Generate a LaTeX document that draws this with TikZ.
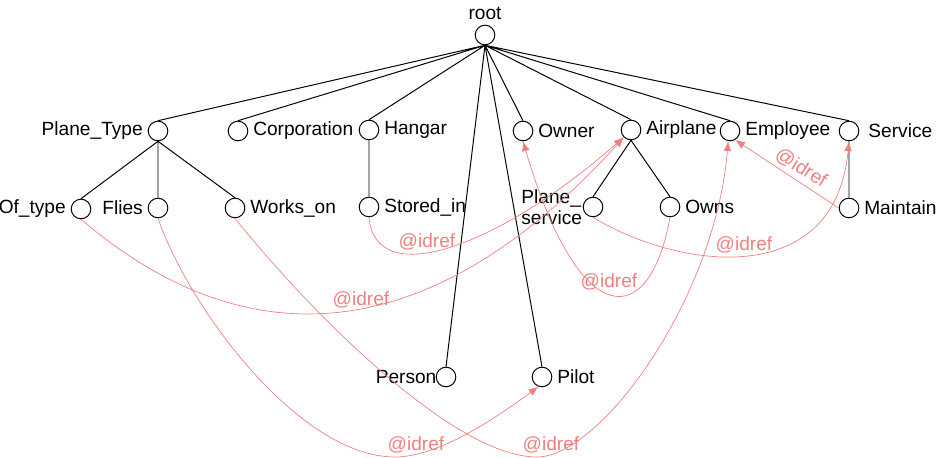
\documentclass[tikz,border=0pt]{standalone}
\usepackage{fontspec}
\setmainfont{Liberation Sans}
\usepackage{tikz}
\usetikzlibrary{arrows.meta}
\definecolor{idred}{RGB}{240,128,128}

\begin{document}
\begin{tikzpicture}[x=0.025cm,y=-0.025cm,
    font=\fontsize{13.6}{14.5}\selectfont,
    vertex/.style={circle,draw,line width=0.7pt,inner sep=0pt,minimum size=0.49cm},
    idref/.style={draw=idred,line width=0.5pt,-{Latex[length=7pt,width=5.5pt]}},
    reflabel/.style={text=idred,inner sep=0pt}]
            \useasboundingbox (0,0) rectangle (936,458);
            \node (root) at (485,35) [vertex,label=above:root] {};
            \node (ptype) at (158,131) [vertex,label=left:Plane\_Type] {};
            \node (corp) at (238,131) [vertex,label=right:Corporation] {};
            \node (hangar) at (369,130) [vertex,label=right:Hangar] {};
            \node (owner) at (523,131) [vertex,label=right:Owner] {};
            \node (plane) at (631,130) [vertex,label=right:Airplane] {};
            \node (emp) at (730,131) [vertex,label=right:Employee] {};
            \node (serv) at (849,131) [vertex,label={[label distance=3pt]right:Service}] {};
            \node (oftype) at (81,209) [vertex,label=left:Of\_type] {};
            \node (flies) at (158,208) [vertex,label=left:Flies] {};
            \node (works) at (235,208) [vertex,label=right:Works\_on] {};
            \node (stored) at (369,207) [vertex,label=right:Stored\_in] {};
            \node (psrv) at (593,207) [vertex,label={[align=left,label distance=-3pt]left:Plane\_\\service}] {};
            \node (owns) at (670,207) [vertex,label=right:Owns] {};
            \node (maint) at (849,208) [vertex,label=right:Maintain] {};
            \node (person) at (446,377) [vertex,label={[label distance=-4pt]left:Person}] {};
            \node (pilot) at (542,377) [vertex,label=right:Pilot] {};
            \draw[line width=0.7pt] (root.south) -- (ptype.north) (root.south) -- (corp.north)
                (root.south) -- (hangar.north) (root.south) -- (owner.north)
                (root.south) -- (plane.north) (root.south) -- (emp.north)
                (root.south) -- (serv.north) (root.south) -- (person.north)
                (root.south) -- (pilot.north)
                (ptype.south) -- (oftype.north) (ptype.south) -- (flies.north)
                (ptype.south) -- (works.north) (hangar.south) -- (stored.north)
                (plane.south) -- (psrv.north) (plane.south) -- (owns.north)
                (serv.south) -- (maint.north);
            % idref links
            \draw[idref] (oftype.south) .. controls (260,372) and (445,335) .. (plane.225);
            \draw[idref] (stored.south) .. controls (375,290) and (495,250) .. (plane.225);
            \draw[idref] (owns.south) .. controls (650,330) and (580,335) .. (owner.south);
            \draw[idref] (psrv.south) .. controls (680,270) and (835,290) .. (serv.south);
            \draw[idref] (maint.west) -- (emp.-60);
            \draw[idref] (flies.south) .. controls (190,310) and (300,457) .. (395,457)
                .. controls (440,457) and (500,415) .. (pilot.-110);
            \draw[idref] (works.south) .. controls (300,300) and (450,457) .. (537,457)
                .. controls (600,457) and (715,300) .. (emp.-100);
            \node (l1) at (361,300) [reflabel] {@idref};
            \node (l2) at (427,242) [reflabel] {@idref};
            \node (l3) at (609,282) [reflabel] {@idref};
            \node (l4) at (744,245) [reflabel] {@idref};
            \node (l5) at (801,168) [reflabel,rotate=-32] {@idref};
            \node (l6) at (416,445) [reflabel] {@idref};
            \node (l7) at (551,445) [reflabel] {@idref};
        \end{tikzpicture}
\end{document}
